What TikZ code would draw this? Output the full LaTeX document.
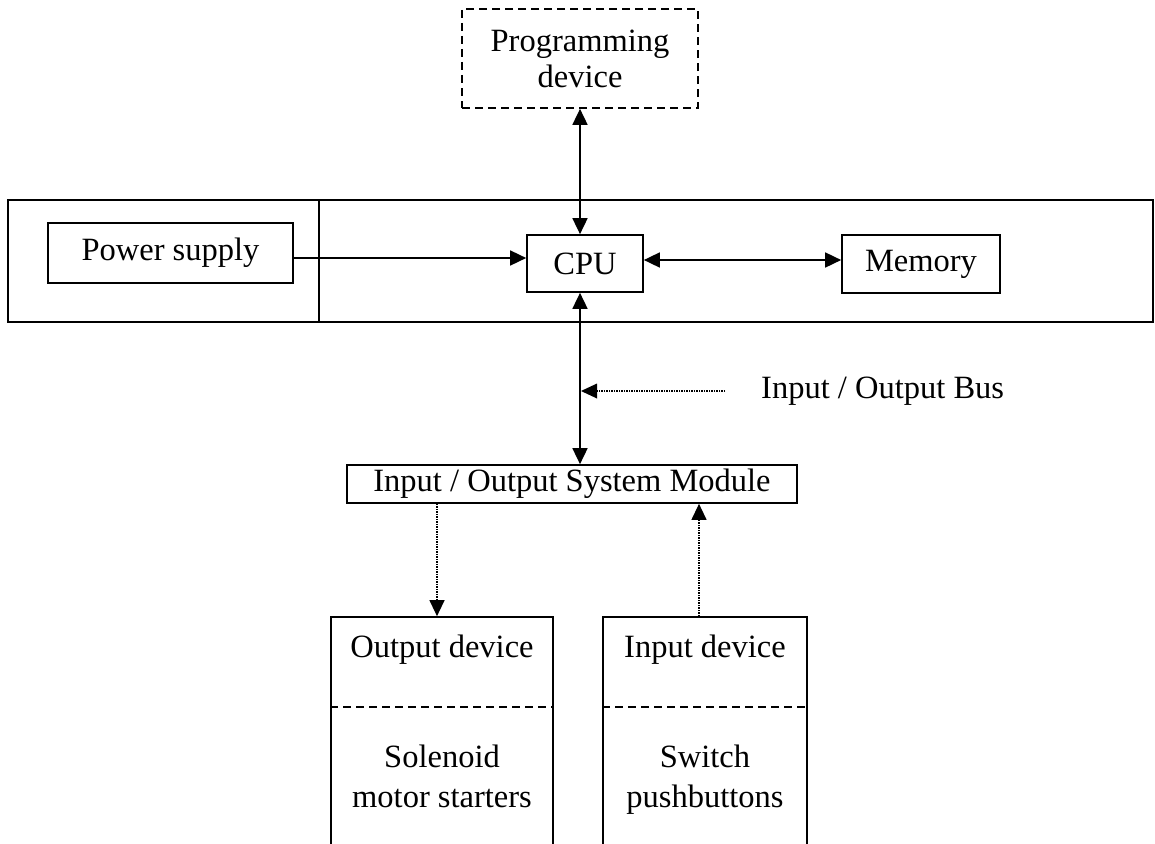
\documentclass[tikz,border=0pt]{standalone}
\usepackage{fontspec}
\setmainfont{Liberation Serif}
\usetikzlibrary{arrows.meta,calc}

\tikzset{
  blk/.style={draw, line width=1.7pt, rectangle, inner sep=0pt, align=center},
  lbl/.style={inner sep=0pt, align=center},
  conn/.style={line width=1.7pt},
  longdash/.style={dash pattern=on 8pt off 5pt},
  tip/.style={-{Triangle[length=16pt,width=15pt]}},
  tips/.style={{Triangle[length=16pt,width=15pt]}-{Triangle[length=16pt,width=15pt]}},
  faint/.style={line width=1.2pt, dash pattern=on 1.2pt off 1.3pt}
}

\begin{document}
\begin{tikzpicture}[x=1pt, y=-1pt, font=\fontsize{32.5}{40}\selectfont]
  \useasboundingbox (0,0) rectangle (1155,843);
  \clip (0,0) rectangle (1155,843);
  \fill[white] (0,0) rectangle (1155,843);

  % controller rack with the power-supply compartment
  \draw[line width=1.7pt] (8,200) rectangle (1153,322);
  \draw[line width=1.7pt] (319,200) -- (319,322);

  % main blocks
  \node[blk, longdash, minimum width=236pt, minimum height=99pt] (prog) at (580,58.5) {Programming\\[-4pt]device};
  \node[blk, minimum width=245pt, minimum height=60pt] (psu) at (170.5,253) {Power supply};
  \node[blk, minimum width=116pt, minimum height=57pt] (cpu) at (585,263.5) {CPU};
  \node[blk, minimum width=158pt, minimum height=58pt] (mem) at (921,264) {Memory};
  \node[blk, minimum width=450pt, minimum height=38pt] (io) at (572,484) {Input / Output System Module};

  % field devices (open towards the bottom edge)
  \node[blk, minimum width=222pt, minimum height=260pt] (outdev) at (442,747) {};
  \node[blk, minimum width=204pt, minimum height=260pt] (indev) at (705,747) {};
  \draw[line width=1.4pt, longdash] (outdev.west |- 0,707) -- (outdev.east |- 0,707);
  \draw[line width=1.4pt, longdash] (indev.west |- 0,707) -- (indev.east |- 0,707);
  \node[lbl] (outtitle) at (442,650) {Output device};
  \node[lbl, anchor=north] (outlist) at (442,745) {Solenoid\\motor starters};
  \node[lbl] (intitle) at (705,650) {Input device};
  \node[lbl, anchor=north] (inlist) at (705,745) {Switch\\pushbuttons};

  % bus label
  \node[lbl, anchor=west] (buslbl) at (761,391) {Input / Output Bus};

  % reference x positions for vertical links
  \coordinate (busx) at (580,0);
  \coordinate (ox) at (437,0);
  \coordinate (ix) at (699,0);
  \coordinate (pwry) at (0,258);
  \coordinate (memy) at (0,260);
  \coordinate (busy) at (0,391);
  \coordinate (busend) at (725,391);

  % connectors
  \draw[conn, tips] (prog.south -| busx) -- (cpu.north -| busx);
  \draw[conn, tip] (psu.east |- pwry) -- (cpu.west |- pwry);
  \draw[conn, tips] (cpu.east |- memy) -- (mem.west |- memy);
  \draw[conn, tips] (cpu.south -| busx) -- (io.north -| busx);
  \draw[faint] (busend) -- ($(busx |- busy)+(15,0)$);
  \fill ($(busx |- busy)+(1,0)$) -- ++(16,-7.5) -- ++(0,15) -- cycle;
  \draw[faint, tip] (io.south -| ox) -- (outdev.north -| ox);
  \draw[faint, tip] (indev.north -| ix) -- (io.south -| ix);
\end{tikzpicture}
\end{document}
